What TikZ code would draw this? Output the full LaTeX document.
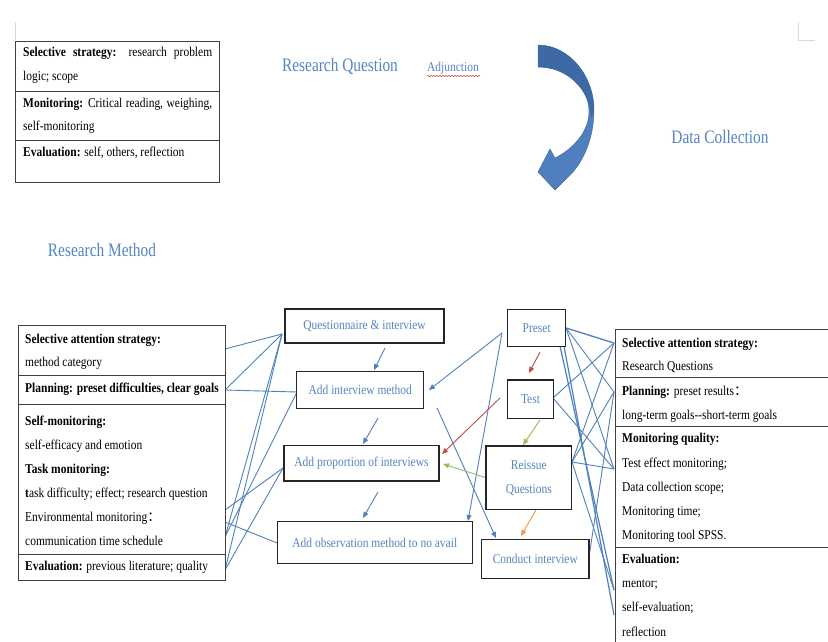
\documentclass[tikz,border=0pt]{standalone}
\usepackage{fontspec}
\setmainfont{Liberation Serif}[FakeStretch=0.85]
\newfontfamily\titlefont{Liberation Serif}[FakeStretch=0.81]
\newfontfamily\cjk{Noto Sans CJK SC}
\usetikzlibrary{arrows.meta,decorations.pathmorphing}
\definecolor{wblue}{HTML}{4F81BD}
\definecolor{tblue}{HTML}{5585C4}
\definecolor{wred}{HTML}{C0504D}
\definecolor{wgreen}{HTML}{9BBB59}
\definecolor{worange}{HTML}{F79646}
\definecolor{adark}{HTML}{3D6AA4}
\definecolor{alight}{HTML}{4F7FBE}
\begin{document}
\begin{tikzpicture}[x=1pt,y=-1pt,
  panel/.style={draw=black!75, line width=0.9pt},
  mbox/.style={draw=black!85, line width=1.2pt, fill=white, inner sep=0pt, text=tblue, font=\fontsize{13.5}{24}\selectfont, align=center},
  txt/.style={anchor=base west, inner sep=0pt, font=\fontsize{13.5}{15}\selectfont},
  ttl/.style={text=tblue, inner sep=0pt, font=\titlefont\fontsize{19}{22}\selectfont},
  conn/.style={draw=wblue, line width=0.9pt},
  arr/.style={conn, -{Triangle[length=6pt,width=5pt]}},
  rarr/.style={arr, draw=wred, fill=wred},
  garr/.style={arr, draw=wgreen, fill=wgreen},
  oarr/.style={arr, draw=worange, fill=worange},
]
\useasboundingbox (0,0) rectangle (828,642);
\fill[white] (0,0) rectangle (828,642);

% page corner marks
\draw[black!15, line width=0.8pt] (15,22) -- (15,40);
\draw[black!15, line width=0.8pt] (798,22) -- (798,40) -- (815,40);

% titles
\node[ttl] (rq) at (340,66) {Research Question};
\node[text=tblue, inner sep=0pt, font=\fontsize{13.5}{15}\selectfont] (adj) at (453,68) {Adjunction};
\draw[wred, line width=0.5pt, decorate, decoration={snake, amplitude=0.7pt, segment length=3pt}] (427,76) -- (480,76);
\node[ttl] (dc) at (720,137) {Data Collection};
\node[ttl] (rm) at (102,250) {Research Method};

% curved arrow
\fill[alight, draw=adark, line width=0.4pt] (538,45) .. controls (569,45) and (594,76) .. (594,110)
  .. controls (594,140) and (582,165) .. (567,178) -- (555,190) -- (538,172) -- (550,149) -- (555,158)
  .. controls (575,148) and (589,130) .. (589,112) .. controls (589,85) and (565,67) .. (538,67) -- cycle;
\fill[adark] (538,45) .. controls (569,45) and (594,76) .. (594,110) -- (591,118)
  .. controls (590,88) and (565,67) .. (538,67) -- cycle;

% top-left panel
\node[panel, minimum width=204pt, minimum height=141pt, inner sep=0pt, anchor=north west] (tl) at (15,41) {};
\draw[panel] (15,91) -- (219,91);
\draw[panel] (15,140) -- (219,140);
\node[txt] (tl1) at (23,57) {\makebox[189pt][s]{\textbf{Selective strategy:} research problem}};
\node[txt] (tl2) at (23,81) {logic; scope};
\node[txt] (tl3) at (23,107) {\makebox[189pt][s]{\textbf{Monitoring:} Critical reading, weighing,}};
\node[txt] (tl4) at (23,131) {self-monitoring};
\node[txt] (tl5) at (23,156) {\textbf{Evaluation:} self, others, reflection};

% hub coordinates
\coordinate (qW) at (282,334);
\coordinate (aimW) at (297,392);
\coordinate (apW) at (283,468);
\coordinate (aoW) at (277,543);
\coordinate (L1) at (225,349);
\coordinate (L2) at (225,390);
\coordinate (L3) at (225,510);
\coordinate (L4) at (225,522);
\coordinate (L5) at (225,537);
\coordinate (L6) at (225,570);
\coordinate (prE) at (566,328);
\coordinate (prS1) at (560,346);
\coordinate (prS2) at (564,346);
\coordinate (teE) at (553,398);
\coordinate (reE) at (572,462);
\coordinate (ciE) at (589,557);
\coordinate (rSel) at (614,343);
\coordinate (rPlan) at (614,392);
\coordinate (rMon) at (614,469);
\coordinate (rEval) at (614,590);
\coordinate (rEvalB) at (614,615);

% left connectors
\draw[conn] (L1) -- (qW);
\draw[conn] (L2) -- (qW);
\draw[conn] (L2) -- (aimW);
\draw[conn] (L3) -- (apW);
\draw[conn] (L4) -- (aoW);
\draw[conn] (L5) -- (qW);
\draw[conn] (L5) -- (aimW);
\draw[conn] (L6) -- (qW);
\draw[conn] (L6) -- (apW);

% right connectors
\draw[conn, line width=1.3pt] (prE) -- (rSel);
\draw[conn] (prE) -- (rPlan);
\draw[conn] (prE) -- (rMon);
\draw[conn, line width=1.2pt] (prS1) -- (rEval);
\draw[conn, line width=1.2pt] (prS2) -- (rEvalB);
\draw[conn] (teE) -- (rSel);
\draw[conn] (teE) -- (rMon);
\draw[conn] (reE) -- (rSel);
\draw[conn] (reE) -- (rPlan);
\draw[conn] (reE) -- (rMon);
\draw[conn] (reE) -- (rEval);
\draw[conn] (ciE) -- (rPlan);

% arrow endpoints
\coordinate (a1s) at (385,348); \coordinate (a1e) at (374,370);
\coordinate (a2s) at (378,418); \coordinate (a2e) at (363,444);
\coordinate (a3s) at (378,492); \coordinate (a3e) at (363,518);
\coordinate (pW) at (502,333);
\coordinate (a4e) at (429,390);
\coordinate (a5e) at (468,521);
\coordinate (a6s) at (437,408); \coordinate (a6e) at (496,538);
\coordinate (r1s) at (540,352); \coordinate (r1e) at (529,373);
\coordinate (r2s) at (500,398); \coordinate (r2e) at (442,454);
\coordinate (g1s) at (540,420); \coordinate (g1e) at (523,445);
\coordinate (g2s) at (487,478); \coordinate (g2e) at (443,464);
\coordinate (o1s) at (536,510); \coordinate (o1e) at (521,536);

\draw[arr] (a1s) -- (a1e);
\draw[arr] (a2s) -- (a2e);
\draw[arr] (a3s) -- (a3e);
\draw[arr] (pW) -- (a4e);
\draw[arr] (pW) -- (a5e);
\draw[arr] (a6s) -- (a6e);
\draw[rarr] (r1s) -- (r1e);
\draw[rarr] (r2s) -- (r2e);
\draw[garr] (g1s) -- (g1e);
\draw[garr] (g2s) -- (g2e);
\draw[oarr] (o1s) -- (o1e);

% middle boxes
\node[mbox, minimum width=159pt, minimum height=34pt] (qi) at (364.5,326) {Questionnaire \& interview};
\node[mbox, minimum width=127pt, minimum height=36.6pt] (aim) at (360.3,390) {Add interview method};
\node[mbox, minimum width=155pt, minimum height=35.3pt] (ap) at (361.5,463.3) {Add proportion of interviews};
\node[mbox, minimum width=195pt, minimum height=41.6pt] (ao) at (374.8,542.5) {Add observation method to no avail};
\node[mbox, minimum width=58pt, minimum height=37.4pt] (pre) at (536.7,328) {Preset};
\node[mbox, minimum width=45.6pt, minimum height=38.3pt] (tst) at (530.5,399.2) {Test};
\node[mbox, minimum width=85.7pt, minimum height=63.3pt] (rei) at (528.8,477.7) {Reissue\\Questions};
\node[mbox, minimum width=107.3pt, minimum height=39pt] (con) at (535.3,558.8) {Conduct interview};

% left lower panel
\node[panel, fill=white, minimum width=207pt, minimum height=255pt, inner sep=0pt, anchor=north west] (lb) at (18,325) {};
\draw[panel] (18,375) -- (225,375);
\draw[panel] (18,404) -- (225,404);
\draw[panel] (18,554) -- (225,554);
\node[txt] (lb1) at (25,343) {\textbf{Selective attention strategy:}};
\node[txt] (lb2) at (25,366) {method category};
\node[txt] (lb3) at (25,392) {\textbf{Planning: preset difficulties, clear goals}};
\node[txt] (lb4) at (25,425) {\textbf{Self-monitoring:}};
\node[txt] (lb5) at (25,449) {self-efficacy and emotion};
\node[txt] (lb6) at (25,473) {\textbf{Task monitoring:}};
\node[txt] (lb7) at (25,497) {\textbf{t}ask difficulty; effect; research question};
\node[txt] (lb8) at (25,521) {Environmental monitoring{\cjk ：}};
\node[txt] (lb9) at (25,545) {communication time schedule};
\node[txt] (lb10) at (25,570) {\textbf{Evaluation:} previous literature; quality};

% right panel
\node[panel, fill=white, minimum width=216pt, minimum height=380pt, inner sep=0pt, anchor=north west] (rb) at (615,329) {};
\draw[panel] (615,377) -- (831,377);
\draw[panel] (615,426) -- (831,426);
\draw[panel] (615,547) -- (831,547);
\node[txt] (rb1) at (622,347) {\textbf{Selective attention strategy:}};
\node[txt] (rb2) at (622,370) {Research Questions};
\node[txt] (rb3) at (622,395) {\textbf{Planning:} preset results{\cjk ：}};
\node[txt] (rb4) at (622,419) {long-term goals-{}-short-term goals};
\node[txt] (rb5) at (622,442) {\textbf{Monitoring quality:}};
\node[txt] (rb6) at (622,467) {Test effect monitoring;};
\node[txt] (rb7) at (622,491) {Data collection scope;};
\node[txt] (rb8) at (622,515) {Monitoring time;};
\node[txt] (rb9) at (622,539) {Monitoring tool SPSS.};
\node[txt] (rb10) at (622,563) {\textbf{Evaluation:}};
\node[txt] (rb11) at (622,587) {mentor;};
\node[txt] (rb12) at (622,611) {self-evaluation;};
\node[txt] (rb13) at (622,636) {reflection};
\end{tikzpicture}
\end{document}
